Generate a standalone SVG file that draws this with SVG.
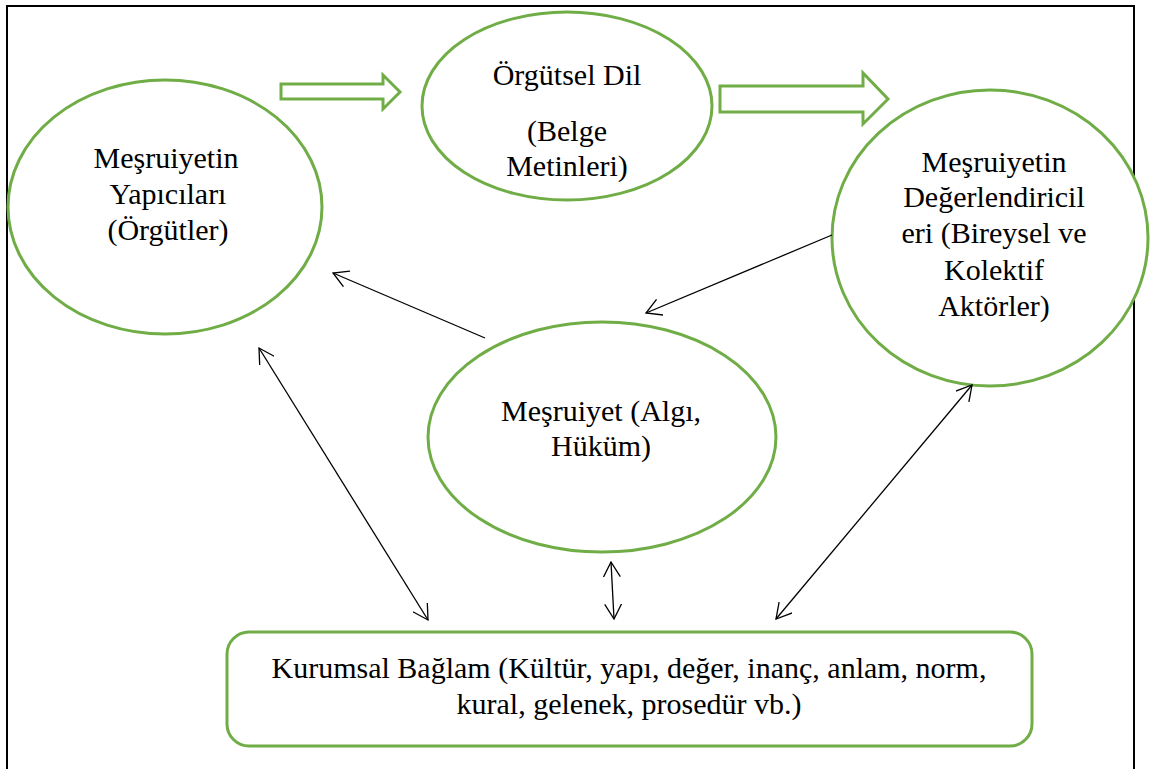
<svg xmlns="http://www.w3.org/2000/svg" width="1160" height="769" viewBox="0 0 1160 769">
<style>
.n{fill:#fff;stroke:#70AD47;stroke-width:3}
.t{font-family:"Liberation Serif","Times New Roman",serif;font-size:30px;fill:#000;text-anchor:middle}
.c{stroke:#000;stroke-width:1.3;fill:none}
</style>
<defs>
<marker id="ah" viewBox="0 0 16 18" refX="15" refY="9" markerWidth="16" markerHeight="18" markerUnits="userSpaceOnUse" orient="auto-start-reverse">
<path d="M0,0.5 L15,9 L0,17.5" fill="none" stroke="#000" stroke-width="1.3"/>
</marker>
</defs>
<rect width="1160" height="769" fill="#fff"/>
<path d="M7,780 L7,6 L1134,6 L1134,780" fill="none" stroke="#000" stroke-width="2"/>
<g id="yapicilar">
<ellipse class="n" cx="165" cy="207" rx="157" ry="127"/>
<text class="t" x="166" y="168">Meşruiyetin</text>
<text class="t" x="168" y="204">Yapıcıları</text>
<text class="t" x="168" y="240">(Örgütler)</text>
</g>
<g id="dil">
<ellipse class="n" cx="567" cy="106" rx="145" ry="94"/>
<text class="t" x="567" y="85">Örgütsel Dil</text>
<text class="t" x="567" y="141">(Belge</text>
<text class="t" x="567" y="176">Metinleri)</text>
</g>
<g id="degerlendiriciler">
<ellipse class="n" cx="990" cy="238" rx="158" ry="148"/>
<text class="t" x="994" y="172">Meşruiyetin</text>
<text class="t" x="994" y="207">Değerlendiricil</text>
<text class="t" x="994" y="243">eri (Bireysel ve</text>
<text class="t" x="994" y="280">Kolektif</text>
<text class="t" x="994" y="316">Aktörler)</text>
</g>
<g id="mesruiyet">
<ellipse class="n" cx="602" cy="437" rx="174" ry="115"/>
<text class="t" x="601" y="421">Meşruiyet (Algı,</text>
<text class="t" x="601" y="456">Hüküm)</text>
</g>
<g id="baglam">
<rect class="n" x="227" y="632" width="805" height="114" rx="22"/>
<text class="t" x="629" y="678">Kurumsal Bağlam (Kültür, yapı, değer, inanç, anlam, norm,</text>
<text class="t" x="629" y="714">kural, gelenek, prosedür vb.)</text>
</g>
<g id="connectors">
<polygon class="n" points="281,84 383,84 383,75 400,92 383,109 383,99 281,99"/>
<polygon class="n" points="720,86 863,86 863,73 888,99 863,124 863,112 720,112"/>
<line class="c" x1="485" y1="338" x2="333" y2="273" marker-end="url(#ah)"/>
<line class="c" x1="832" y1="235" x2="646" y2="313" marker-end="url(#ah)"/>
<line class="c" x1="259" y1="348" x2="428" y2="620" marker-start="url(#ah)" marker-end="url(#ah)"/>
<line class="c" x1="611" y1="562" x2="614" y2="619" marker-start="url(#ah)" marker-end="url(#ah)"/>
<line class="c" x1="972" y1="385" x2="776" y2="619" marker-start="url(#ah)" marker-end="url(#ah)"/>
</g>
</svg>
